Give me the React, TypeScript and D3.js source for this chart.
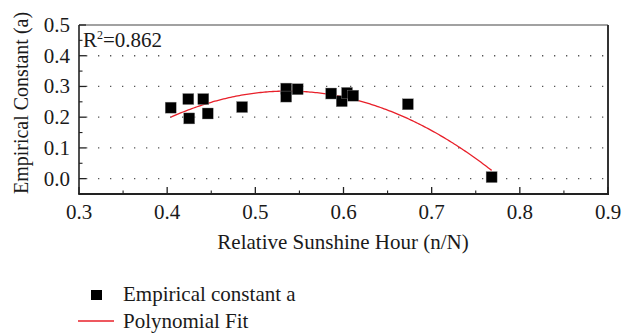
import React from "react";
import * as d3 from "d3";

const sunshineX = [0.404, 0.424, 0.425, 0.441, 0.446, 0.485, 0.535, 0.535, 0.548, 0.586, 0.598, 0.604, 0.611, 0.673, 0.768];
const constantA = [0.231, 0.259, 0.196, 0.259, 0.212, 0.233, 0.293, 0.267, 0.291, 0.277, 0.252, 0.279, 0.270, 0.242, 0.005];
const fitCoef = [-1.1056, 5.181, -4.826];
const fitRange = [0.404, 0.768];
const xTicks = [0.3, 0.4, 0.5, 0.6, 0.7, 0.8, 0.9];
const yTicks = [0.0, 0.1, 0.2, 0.3, 0.4, 0.5];
const gridY = [0.0, 0.1, 0.2, 0.3, 0.4];

const W = 622, H = 334;
const L = 79, R = 608, T = 25, B = 194;
const FONT = '"Liberation Serif", "Times New Roman", serif';
const FS = 21;

export default function App() {
  const x = d3.scaleLinear().domain([0.3, 0.9]).range([L, R]);
  const y = d3.scaleLinear().domain([-0.05, 0.5]).range([B, T]);
  const xMinor = d3.range(0.35, 0.9, 0.1);
  const yMinor = d3.range(-0.05, 0.5, 0.1).map((v) => +v.toFixed(2));
  const fitPts = d3.range(fitRange[0], fitRange[1] + 1e-9, 0.002).map((v) => [v, fitCoef[0] + fitCoef[1] * v + fitCoef[2] * v * v]);
  const line = d3.line<number[]>().x((d) => x(d[0])).y((d) => y(d[1]));
  const sq = 11;
  const ts = { fontFamily: FONT };
  const txt = "#1a1a1a";
  return (
    <svg width={W} height={H} style={{ position: "absolute", left: 0, top: 0, fontFamily: FONT }}>
      <rect width={W} height={H} fill="#fff" />
      {gridY.map((v) => (
        <line key={"g" + v} x1={L + 7} x2={R - 1} y1={y(v)} y2={y(v)} stroke="#555" strokeWidth={1.3} strokeDasharray="1.3,10.7" />
      ))}
      <path d={line(fitPts) || ""} fill="none" stroke="#e8202a" strokeWidth={1.3} />
      {sunshineX.map((v, i) => (
        <rect key={"p" + i} x={x(v) - sq / 2} y={y(constantA[i]) - sq / 2} width={sq} height={sq} fill="#000" stroke="#888" strokeWidth={0.4} />
      ))}
      <line x1={L} x2={R} y1={T} y2={T} stroke="#444" strokeWidth={1.1} />
      <line x1={R} x2={R} y1={T} y2={B} stroke="#333" strokeWidth={2} />
      <line x1={L} x2={L} y1={T} y2={B} stroke="#222" strokeWidth={1.6} />
      <line x1={L - 0.8} x2={R + 1} y1={B} y2={B} stroke="#222" strokeWidth={1.8} />
      {xTicks.map((v) => (
        <g key={"xt" + v}>
          <line x1={x(v)} x2={x(v)} y1={B} y2={B - 7} stroke="#222" strokeWidth={1.3} />
          <text style={ts} x={x(v)} y={219} textAnchor="middle" fontSize={FS} fill={txt}>{v.toFixed(1)}</text>
        </g>
      ))}
      {xMinor.map((v, i) => (
        <line key={"xm" + i} x1={x(v)} x2={x(v)} y1={B} y2={B - 3.5} stroke="#222" strokeWidth={1.1} />
      ))}
      {yTicks.map((v) => (
        <g key={"yt" + v}>
          <line x1={L} x2={L + 7} y1={y(v)} y2={y(v)} stroke="#222" strokeWidth={1.3} />
          <text style={ts} x={70} y={y(v) + 7} textAnchor="end" fontSize={FS} fill={txt}>{v.toFixed(1)}</text>
        </g>
      ))}
      {yMinor.map((v, i) => (
        <line key={"ym" + i} x1={L} x2={L + 3.5} y1={y(v)} y2={y(v)} stroke="#222" strokeWidth={1.1} />
      ))}
      <text style={ts} x={343} y={249} textAnchor="middle" fontSize={FS} fill={txt}>Relative Sunshine Hour (n/N)</text>
      <text style={ts} transform={`translate(28,103) rotate(-90)`} textAnchor="middle" fontSize={20} fill={txt}>Empirical Constant (a)</text>
      <text style={ts} x={83} y={47} fontSize={FS} fill={txt}>R<tspan dy={-8} fontSize={12}>2</tspan><tspan dy={8}>=0.862</tspan></text>
      <rect x={91} y={290} width={11} height={10} fill="#000" />
      <text style={ts} x={123} y={301} fontSize={FS} fill={txt}>Empirical constant a</text>
      <line x1={78} x2={114} y1={321} y2={321} stroke="#e8202a" strokeWidth={1.3} />
      <text style={ts} x={123} y={328} fontSize={FS} fill={txt}>Polynomial Fit</text>
    </svg>
  );
}
